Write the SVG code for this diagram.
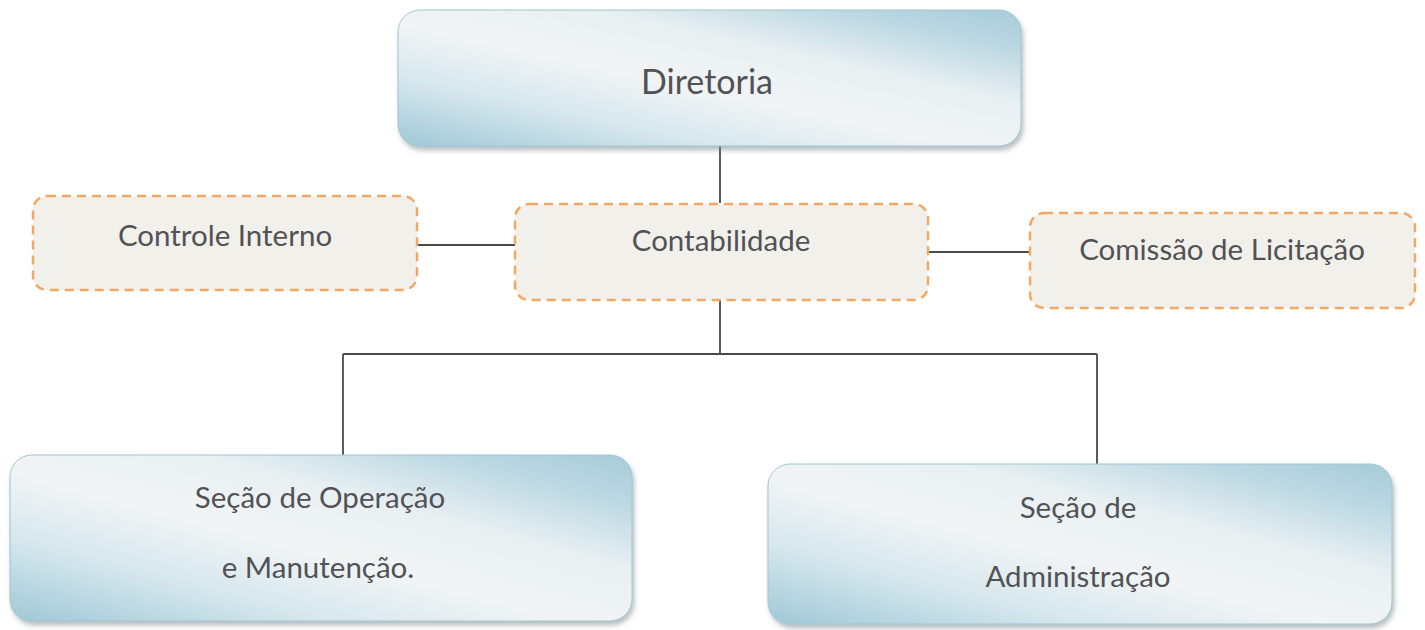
<svg xmlns="http://www.w3.org/2000/svg" width="1425" height="630" viewBox="0 0 1425 630">
<style>
.blue{fill:url(#gb);stroke:#9fc6d3;stroke-width:1;filter:url(#sh)}
.dash{fill:#f2f0eb;stroke:#f1a865;stroke-width:2.5;stroke-dasharray:9 6}
.t{font-family:Lato,"Open Sans",sans-serif;fill:#525256;text-anchor:middle;font-size:29.5px}
.big{font-size:34px}
.c{fill:none;stroke:#4a4a4a;stroke-width:1.8}
</style>
<defs>
<linearGradient id="gb" x1="0" y1="1" x2="1" y2="0">
<stop offset="0" stop-color="#9fc8d6"/>
<stop offset="0.25" stop-color="#d6e7ed"/>
<stop offset="0.45" stop-color="#f1f4f5"/>
<stop offset="0.65" stop-color="#e9f0f2"/>
<stop offset="0.85" stop-color="#bcd8e2"/>
<stop offset="1" stop-color="#a6cbd8"/>
</linearGradient>
<filter id="sh" x="-5%" y="-10%" width="110%" height="130%">
<feDropShadow dx="2" dy="4" stdDeviation="2.5" flood-color="#7f8a90" flood-opacity="0.55"/>
</filter>
</defs>
<rect width="1425" height="630" fill="#ffffff"/>
<g id="connectors">
<line class="c" x1="720" y1="146" x2="720" y2="203"/>
<line class="c" x1="720" y1="300" x2="720" y2="354"/>
<line class="c" x1="343" y1="354" x2="1097" y2="354"/>
<line class="c" x1="343" y1="354" x2="343" y2="455"/>
<line class="c" x1="1097" y1="354" x2="1097" y2="465"/>
<line class="c" x1="417" y1="245" x2="515" y2="245"/>
<line class="c" x1="928" y1="252" x2="1030" y2="252"/>
</g>
<g id="diretoria">
<rect class="blue" x="398" y="10" width="623" height="136" rx="22"/>
<text class="t big" x="707" y="94">Diretoria</text>
</g>
<g id="controle-interno">
<rect class="dash" x="33" y="196" width="384" height="94" rx="14"/>
<text class="t" x="225" y="246">Controle Interno</text>
</g>
<g id="contabilidade">
<rect class="dash" x="515" y="204" width="413" height="96" rx="14"/>
<text class="t" x="721" y="251">Contabilidade</text>
</g>
<g id="comissao-licitacao">
<rect class="dash" x="1030" y="213" width="385" height="95" rx="14"/>
<text class="t" x="1222" y="260">Comissão de Licitação</text>
</g>
<g id="secao-operacao">
<rect class="blue" x="10" y="455" width="622" height="166" rx="22"/>
<text class="t" x="320" y="508">Seção de Operação</text>
<text class="t" x="318" y="578">e Manutenção.</text>
</g>
<g id="secao-administracao">
<rect class="blue" x="768" y="464" width="624" height="160" rx="22"/>
<text class="t" x="1078" y="518">Seção de</text>
<text class="t" x="1078" y="587">Administração</text>
</g>
</svg>
